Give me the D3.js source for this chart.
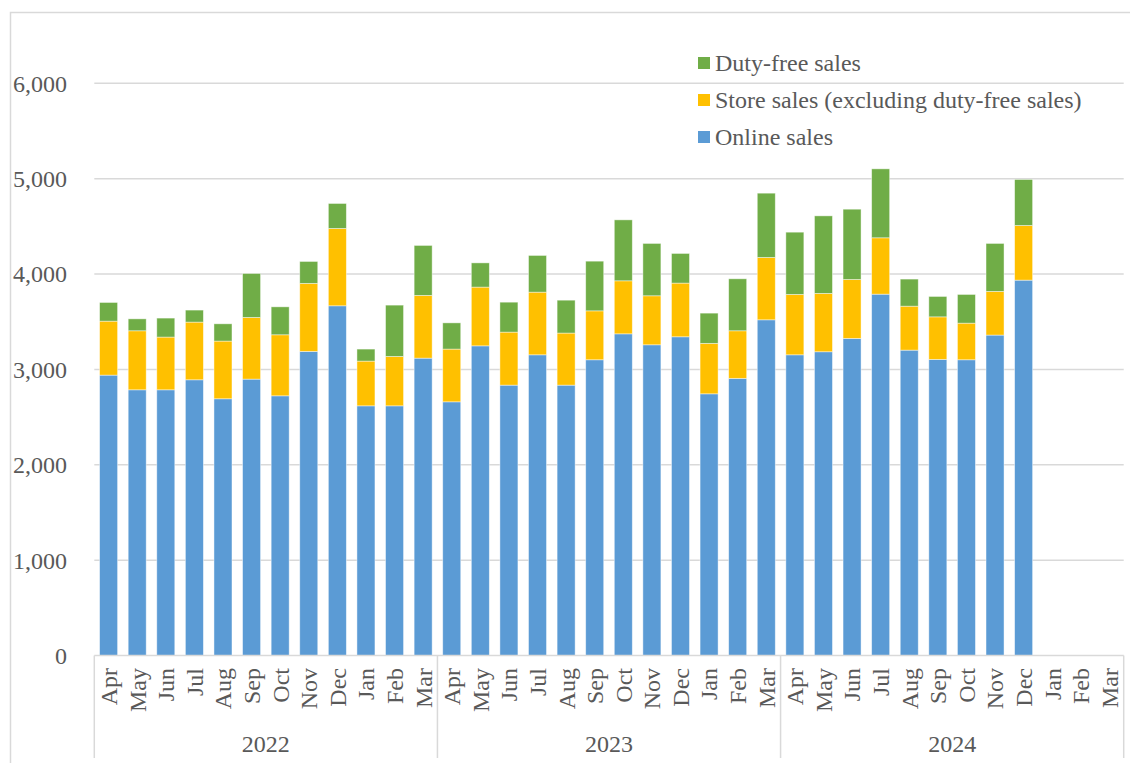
<!DOCTYPE html>
<html>
<head>
<meta charset="utf-8">
<script src="https://cdn.jsdelivr.net/npm/d3@7"></script>
<style>
  body { margin: 0; background: #fff; }
  text { font-family: "Liberation Serif", "Times New Roman", serif; fill: #595959; }
</style>
</head>
<body>
<div id="chart-area"></div>
<script>
// data (fiscal years Apr-Mar)
const years = ["2022", "2023", "2024"];
const months = ["Apr","May","Jun","Jul","Aug","Sep","Oct","Nov","Dec","Jan","Feb","Mar"];
const onlineSales = [2940, 2786, 2786, 2891, 2692, 2898, 2723, 3189, 3667, 2618, 2618, 3118,
                     2660, 3247, 2835, 3153, 2835, 3101, 3373, 3258, 3342, 2744, 2906, 3520,
                     3153, 3185, 3325, 3789, 3202, 3105, 3101, 3360, 3936, null, null, null];
const storeSales = [566, 619, 553, 605, 605, 647, 640, 713, 811, 469, 518, 658,
                    553, 616, 556, 657, 546, 513, 556, 514, 563, 529, 499, 654,
                    633, 612, 618, 591, 461, 446, 384, 458, 573, null, null, null];
const dutyFreeSales = [196, 125, 199, 126, 181, 461, 293, 230, 262, 126, 538, 524,
                       275, 254, 314, 385, 345, 521, 639, 549, 311, 317, 545, 674,
                       653, 813, 737, 723, 284, 214, 301, 503, 483, null, null, null];
const yTicks = [0, 1000, 2000, 3000, 4000, 5000, 6000];
const seriesNames = ["Online sales", "Store sales (excluding duty-free sales)", "Duty-free sales"];
const seriesColors = ["#5B9BD5", "#FFC000", "#70AD47"];

const canvasWidth = 1130;
const canvasHeight = 763;
const plotLeft = 94.3, plotRight = 1123.7, plotBottom = 655.5;
const fontSize = "24px";

var svg = d3.select("#chart-area")
    .append("svg")
        .attr("width", canvasWidth)
        .attr("height", canvasHeight);

// chart frame
svg.append("path")
    .attr("d", "M10.5," + canvasHeight + "V12.5H" + canvasWidth)
    .attr("fill", "none")
    .attr("stroke", "#d9d9d9")
    .attr("stroke-width", 1.5);

// build rows
var rows = [];
years.forEach((yr, yi) => {
    months.forEach((m, mi) => {
        var i = yi * 12 + mi;
        rows.push({
            key: yr + "-" + m, year: yr, month: m,
            online: onlineSales[i], store: storeSales[i], dutyFree: dutyFreeSales[i]
        });
    });
});

// scales
var x = d3.scaleBand()
    .domain(rows.map(d => d.key))
    .range([plotLeft, plotRight])
    .paddingInner(0.37)
    .paddingOuter(0.185);

var y = d3.scaleLinear()
    .domain([0, 6000])
    .range([plotBottom, 83.3]);

// gridlines
svg.append("g")
    .selectAll("line")
    .data(yTicks.filter(d => d > 0))
    .enter().append("line")
        .attr("x1", plotLeft)
        .attr("x2", plotRight)
        .attr("y1", d => y(d))
        .attr("y2", d => y(d))
        .attr("stroke", "#d9d9d9")
        .attr("stroke-width", 1.5);

// y labels
svg.append("g")
    .selectAll("text")
    .data(yTicks)
    .enter().append("text")
        .attr("x", 67)
        .attr("y", d => y(d))
        .attr("dy", "0.35em")
        .attr("text-anchor", "end")
        .attr("font-size", fontSize)
        .text(d => d3.format(",")(d));

// stacked bars
var stack = d3.stack().keys(["online", "store", "dutyFree"])
    .value((d, k) => d[k] || 0);
var stacked = stack(rows);

svg.append("g")
    .selectAll("g")
    .data(stacked)
    .enter().append("g")
        .attr("fill", (d, i) => seriesColors[i])
    .selectAll("rect")
    .data(d => d.filter(p => p.data.online != null))
    .enter().append("rect")
        .attr("x", d => x(d.data.key))
        .attr("width", x.bandwidth())
        .attr("y", d => y(d[1]))
        .attr("height", d => y(d[0]) - y(d[1]))
        .attr("stroke", "rgba(255,255,255,0.55)")
        .attr("stroke-width", 0.8);

// category axis line
svg.append("line")
    .attr("x1", plotLeft).attr("x2", plotRight)
    .attr("y1", plotBottom).attr("y2", plotBottom)
    .attr("stroke", "#d9d9d9")
    .attr("stroke-width", 1.5);

// group boundaries
var groupWidth = (plotRight - plotLeft) / years.length;
svg.append("g")
    .selectAll("line")
    .data(d3.range(years.length + 1))
    .enter().append("line")
        .attr("x1", i => plotLeft + i * groupWidth)
        .attr("x2", i => plotLeft + i * groupWidth)
        .attr("y1", plotBottom)
        .attr("y2", 758)
        .attr("stroke", "#d9d9d9")
        .attr("stroke-width", 1.5);

// month labels (rotated)
svg.append("g")
    .selectAll("text")
    .data(rows)
    .enter().append("text")
        .attr("transform", d => "translate(" + (x(d.key) + x.bandwidth() / 2) + "," + 668 + ") rotate(-90)")
        .attr("dy", "0.35em")
        .attr("text-anchor", "end")
        .attr("font-size", fontSize)
        .text(d => d.month);

// year labels
svg.append("g")
    .selectAll("text")
    .data(years)
    .enter().append("text")
        .attr("x", (d, i) => plotLeft + (i + 0.5) * groupWidth)
        .attr("y", 744)
        .attr("dy", "0.35em")
        .attr("text-anchor", "middle")
        .attr("font-size", fontSize)
        .text(d => d);

// legend
var legendOrder = [2, 1, 0];
var legend = svg.append("g")
    .attr("transform", "translate(698, 63)");
legendOrder.forEach((s, i) => {
    var row = legend.append("g")
        .attr("transform", "translate(0," + (i * 37) + ")");
    row.append("rect")
        .attr("x", 0).attr("y", -6)
        .attr("width", 12).attr("height", 12)
        .attr("fill", seriesColors[s]);
    row.append("text")
        .attr("x", 17)
        .attr("y", 0)
        .attr("dy", "0.35em")
        .attr("font-size", fontSize)
        .text(seriesNames[s]);
});
</script>
</body>
</html>
